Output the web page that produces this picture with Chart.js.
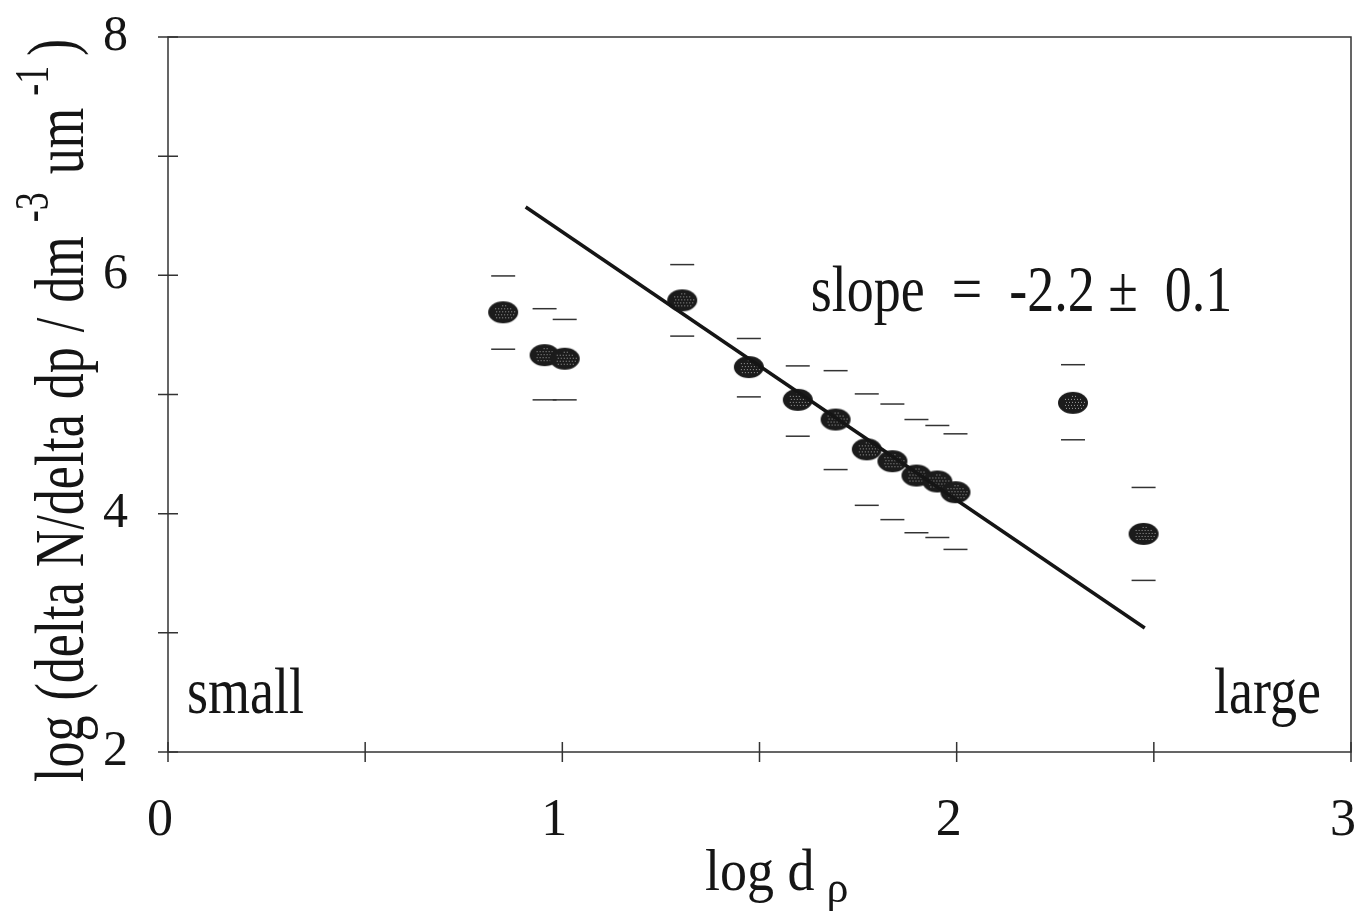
<!DOCTYPE html>
<html>
<head>
<meta charset="utf-8">
<script src="https://cdn.jsdelivr.net/npm/chart.js@4"></script>
<style>
  body { margin: 0; background: #fff; }
</style>
</head>
<body>
<canvas id="chart" width="1367" height="917"></canvas>
<script>
// values
const logDp   = [0.85, 0.955, 1.006, 1.304, 1.473, 1.597, 1.693, 1.772, 1.837, 1.898, 1.951, 1.997, 2.295, 2.474];
const logN    = [5.69, 5.33, 5.30, 5.79, 5.23, 4.955, 4.79, 4.54, 4.44, 4.32, 4.27, 4.18, 4.93, 3.83];
const errHigh = [5.995, 5.72, 5.63, 6.09, 5.47, 5.24, 5.20, 5.005, 4.92, 4.79, 4.74, 4.67, 5.25, 4.22];
const errLow  = [5.38, 4.955, 4.955, 5.49, 4.98, 4.65, 4.37, 4.07, 3.95, 3.84, 3.80, 3.70, 4.62, 3.44];
const fitX = [0.907, 2.477];
const fitY = [6.574, 3.04];
const xLabels = [0, 1, 2, 3];
const yLabels = [2, 4, 6, 8];

const serif = "'Liberation Serif', 'Times New Roman', serif";
const ink = '#151515';

function makeDot() {
    const c = document.createElement('canvas');
    c.width = 32;
    c.height = 24;
    const g = c.getContext('2d');
    g.fillStyle = '#1b1b1b';
    g.beginPath();
    g.ellipse(16, 12, 15, 11, 0, 0, Math.PI * 2);
    g.fill();
    g.fillStyle = '#a0a0a0';
    for (let y = 5; y < 20; y += 3) {
        for (let x = 5; x < 28; x += 3) {
            const dx = (x - 16) / 11, dy = (y - 12) / 7.5;
            if (dx * dx + dy * dy < 1) g.fillRect(x + (y % 2), y, 1, 1);
        }
    }
    return c;
}

const pts = logDp.map((x, i) => ({ x: x, y: logN[i] }));
const hi = logDp.map((x, i) => ({ x: x, y: errHigh[i] }));
const lo = logDp.map((x, i) => ({ x: x, y: errLow[i] }));
const fit = fitX.map((x, i) => ({ x: x, y: fitY[i] }));

// text a bit taller than wide, like the scanned original
function tallText(ctx, text, x, y, align, stretch) {
    ctx.save();
    ctx.translate(x, y);
    ctx.scale(1, stretch);
    ctx.textAlign = align;
    ctx.fillText(text, 0, 0);
    ctx.restore();
}

// frame, crossing tick marks and all the free text
const decor = {
    id: 'decor',
    afterDraw(chart) {
        const ctx = chart.ctx;
        const a = chart.chartArea;
        const xs = chart.scales.x, ys = chart.scales.y;
        ctx.save();
        ctx.strokeStyle = '#333';
        ctx.lineWidth = 1.5;
        ctx.strokeRect(a.left, a.top, a.right - a.left, a.bottom - a.top);
        ctx.beginPath();
        xs.ticks.forEach(t => {
            const px = xs.getPixelForValue(t.value);
            ctx.moveTo(px, a.bottom - 10);
            ctx.lineTo(px, a.bottom + 10);
        });
        ys.ticks.forEach(t => {
            const py = ys.getPixelForValue(t.value);
            ctx.moveTo(a.left - 10, py);
            ctx.lineTo(a.left + 10, py);
        });
        ctx.stroke();

        ctx.fillStyle = ink;
        ctx.textBaseline = 'alphabetic';
        ctx.font = '54px ' + serif;
        tallText(ctx, 'slope  =  -2.2 \u00b1  0.1', xs.getPixelForValue(1.63), ys.getPixelForValue(5.7), 'left', 1.2);
        tallText(ctx, 'small', a.left + 19, a.bottom - 39, 'left', 1.2);
        tallText(ctx, 'large', a.right - 30, a.bottom - 39, 'right', 1.2);

        // x title: log d with subscript rho
        tallText(ctx, 'log d', 705, 890, 'left', 1.1);
        const w = ctx.measureText('log d').width;
        ctx.font = '44px ' + serif;
        ctx.fillText('\u03c1', 705 + w + 12, 902);

        // y title, rotated, with superscripts
        ctx.translate(83, 782);
        ctx.rotate(-Math.PI / 2);
        ctx.scale(1, 1.35);
        ctx.textAlign = 'left';
        ctx.wordSpacing = '2px';
        const parts = [
            ['log (delta N/delta dp / dm', 52, 0, 0],
            ['-3', 36, 14, -26],
            ['um', 52, 18, 0],
            ['-1', 36, 12, -26],
            [')', 50, 10, -7]
        ];
        let pos = 0;
        parts.forEach(p => {
            ctx.font = p[1] + 'px ' + serif;
            pos += p[2];
            ctx.fillText(p[0], pos, p[3]);
            pos += ctx.measureText(p[0]).width;
        });
        ctx.restore();
    }
};

new Chart(document.getElementById('chart'), {
    type: 'scatter',
    data: {
        datasets: [
            {
                type: 'line',
                data: fit,
                borderColor: ink,
                borderWidth: 3.5,
                pointRadius: 0,
                fill: false
            },
            {
                data: hi,
                pointStyle: 'line',
                pointRadius: 12,
                borderColor: '#333',
                borderWidth: 1.5
            },
            {
                data: lo,
                pointStyle: 'line',
                pointRadius: 12,
                borderColor: '#333',
                borderWidth: 1.5
            },
            {
                data: pts,
                pointStyle: makeDot(),
                pointRadius: 15
            }
        ]
    },
    options: {
        responsive: false,
        animation: false,
        devicePixelRatio: 1,
        layout: { padding: { left: 0, top: 37, right: 11, bottom: 0 } },
        plugins: {
            legend: { display: false },
            tooltip: { enabled: false }
        },
        scales: {
            x: {
                type: 'linear',
                min: 0,
                max: 3,
                grid: { display: false, drawTicks: false },
                border: { display: false },
                afterFit: (s) => {
                    s.height = 165;
                    s.paddingLeft = 0;
                    s.paddingRight = 0;
                },
                ticks: {
                    stepSize: 0.5,
                    autoSkip: false,
                    maxRotation: 0,
                    padding: 38,
                    labelOffset: -8,
                    color: ink,
                    font: { family: serif, size: 52 },
                    callback: (v) => xLabels.includes(v) ? String(v) : ''
                }
            },
            y: {
                type: 'linear',
                min: 2,
                max: 8,
                grid: { display: false, drawTicks: false },
                border: { display: false },
                afterFit: (s) => {
                    s.width = 168;
                    s.paddingTop = 0;
                    s.paddingBottom = 0;
                },
                ticks: {
                    stepSize: 1,
                    autoSkip: false,
                    padding: 40,
                    color: ink,
                    font: { family: serif, size: 50 },
                    callback: (v) => yLabels.includes(v) ? String(v) : ''
                }
            }
        }
    },
    plugins: [decor]
});
</script>
</body>
</html>
